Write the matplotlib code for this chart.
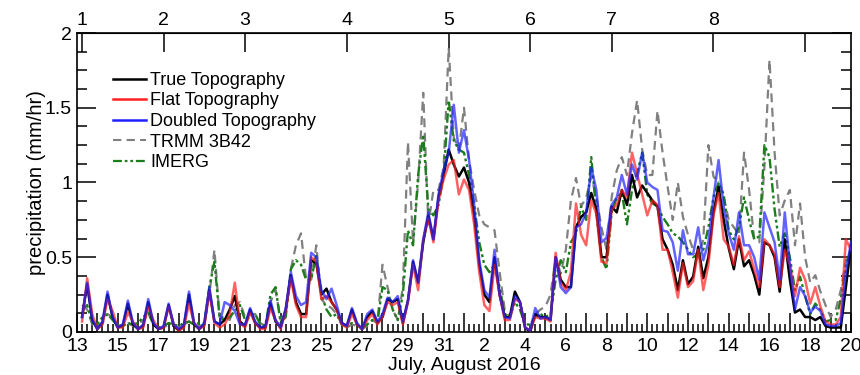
import pandas as pd
import matplotlib
matplotlib.use("Agg")
import matplotlib.pyplot as plt
from matplotlib.lines import Line2D

plt.rcParams['font.family'] = ['Liberation Sans', 'DejaVu Sans']

# 6-hourly domain-mean precipitation (mm/hr), 13 Jul 06Z .. 20 Aug 00Z
times = pd.date_range('2016-07-13 06:00', periods=152, freq='6h')

true_topo = [
    0.10, 0.32, 0.08, 0.02, 0.06, 0.25, 0.10, 0.03, 0.04, 0.19, 0.05, 0.02,
    0.04, 0.20, 0.05, 0.02, 0.03, 0.18, 0.04, 0.01, 0.04, 0.25, 0.05, 0.02,
    0.05, 0.28, 0.07, 0.05, 0.08, 0.15, 0.24, 0.07, 0.04, 0.15, 0.06, 0.03,
    0.03, 0.19, 0.07, 0.03, 0.15, 0.38, 0.20, 0.12, 0.12, 0.48, 0.46, 0.25,
    0.29, 0.20, 0.15, 0.06, 0.04, 0.15, 0.05, 0.02, 0.10, 0.14, 0.06, 0.10,
    0.22, 0.20, 0.22, 0.06, 0.21, 0.47, 0.33, 0.60, 0.78, 0.62, 0.90, 1.05,
    1.22, 1.12, 1.04, 1.10, 1.00, 0.78, 0.45, 0.25, 0.20, 0.50, 0.25, 0.10,
    0.10, 0.27, 0.20, 0.03, 0.00, 0.12, 0.10, 0.10, 0.08, 0.50, 0.35, 0.30,
    0.30, 0.70, 0.77, 0.80, 0.93, 0.82, 0.50, 0.50, 0.84, 0.80, 0.95, 0.85,
    1.05, 0.90, 0.98, 0.93, 0.88, 0.84, 0.62, 0.55, 0.45, 0.28, 0.48, 0.32,
    0.37, 0.57, 0.36, 0.50, 0.80, 0.97, 0.75, 0.56, 0.42, 0.62, 0.44, 0.48,
    0.38, 0.25, 0.60, 0.58, 0.50, 0.27, 0.62, 0.35, 0.13, 0.15, 0.10, 0.10,
    0.08, 0.10, 0.04, 0.03, 0.03, 0.03, 0.30, 0.58,
]
flat_topo = [
    0.07, 0.36, 0.12, 0.02, 0.05, 0.22, 0.14, 0.03, 0.03, 0.13, 0.07, 0.02,
    0.03, 0.17, 0.08, 0.02, 0.03, 0.17, 0.05, 0.01, 0.03, 0.19, 0.06, 0.02,
    0.04, 0.27, 0.06, 0.03, 0.05, 0.12, 0.33, 0.06, 0.03, 0.13, 0.06, 0.02,
    0.02, 0.16, 0.08, 0.02, 0.14, 0.36, 0.18, 0.10, 0.10, 0.50, 0.47, 0.22,
    0.24, 0.20, 0.15, 0.05, 0.03, 0.12, 0.05, 0.02, 0.08, 0.12, 0.05, 0.10,
    0.20, 0.18, 0.20, 0.05, 0.20, 0.45, 0.28, 0.62, 0.76, 0.60, 0.88, 1.02,
    1.12, 1.15, 0.92, 1.02, 0.95, 0.72, 0.40, 0.18, 0.14, 0.45, 0.25, 0.08,
    0.08, 0.22, 0.20, 0.03, 0.01, 0.10, 0.09, 0.09, 0.07, 0.53, 0.33, 0.28,
    0.40, 0.86, 0.65, 0.58, 0.88, 0.79, 0.47, 0.46, 0.82, 0.85, 0.95, 0.90,
    1.20, 1.06, 0.92, 0.78, 0.88, 0.85, 0.55, 0.55, 0.40, 0.23, 0.46, 0.30,
    0.34, 0.55, 0.28, 0.45, 0.78, 0.93, 0.62, 0.57, 0.45, 0.64, 0.48, 0.54,
    0.42, 0.30, 0.62, 0.58, 0.52, 0.30, 0.55, 0.45, 0.24, 0.43, 0.35, 0.19,
    0.30, 0.17, 0.07, 0.05, 0.05, 0.10, 0.62, 0.55,
]
doubled_topo = [
    0.10, 0.33, 0.08, 0.02, 0.07, 0.27, 0.10, 0.03, 0.05, 0.21, 0.06, 0.02,
    0.05, 0.22, 0.06, 0.02, 0.04, 0.19, 0.05, 0.02, 0.05, 0.27, 0.06, 0.02,
    0.06, 0.30, 0.07, 0.05, 0.20, 0.18, 0.14, 0.05, 0.05, 0.16, 0.07, 0.03,
    0.04, 0.21, 0.08, 0.03, 0.16, 0.40, 0.24, 0.18, 0.20, 0.53, 0.50, 0.28,
    0.22, 0.29, 0.18, 0.06, 0.04, 0.16, 0.06, 0.02, 0.12, 0.15, 0.07, 0.12,
    0.23, 0.20, 0.24, 0.07, 0.21, 0.48, 0.33, 0.62, 0.80, 0.62, 0.92, 1.08,
    1.20, 1.52, 1.20, 1.35, 1.15, 0.85, 0.48, 0.28, 0.23, 0.55, 0.25, 0.10,
    0.09, 0.24, 0.20, 0.03, 0.01, 0.16, 0.09, 0.10, 0.08, 0.50, 0.30, 0.26,
    0.30, 0.70, 0.72, 0.80, 1.10, 0.95, 0.60, 0.63, 0.85, 0.90, 1.05, 0.92,
    1.12, 1.02, 1.20, 1.00, 0.97, 0.95, 0.68, 0.67, 0.60, 0.41, 0.68, 0.52,
    0.52, 0.70, 0.48, 0.60, 0.90, 1.15, 0.84, 0.66, 0.55, 0.80, 0.58, 0.58,
    0.50, 0.35, 0.80, 0.70, 0.60, 0.35, 0.80, 0.45, 0.15, 0.30, 0.24, 0.13,
    0.17, 0.14, 0.05, 0.04, 0.04, 0.06, 0.40, 0.60,
]
trmm = [
    0.18, 0.15, 0.05, 0.03, 0.06, 0.12, 0.10, 0.04, 0.05, 0.06, 0.04, 0.05,
    0.08, 0.12, 0.06, 0.03, 0.03, 0.05, 0.04, 0.03, 0.05, 0.07, 0.05, 0.04,
    0.05, 0.25, 0.55, 0.10, 0.10, 0.08, 0.18, 0.20, 0.10, 0.12, 0.12, 0.06,
    0.04, 0.20, 0.28, 0.08, 0.12, 0.42, 0.58, 0.66, 0.35, 0.35, 0.58, 0.22,
    0.18, 0.16, 0.12, 0.05, 0.03, 0.05, 0.04, 0.02, 0.04, 0.08, 0.06, 0.45,
    0.30, 0.15, 0.08, 0.30, 1.27, 0.60, 1.00, 1.60, 0.72, 0.95, 0.95, 1.10,
    1.90, 1.30, 1.22, 1.50, 1.15, 0.95, 0.78, 0.72, 0.70, 0.68, 0.40, 0.15,
    0.10, 0.22, 0.20, 0.05, 0.03, 0.12, 0.15, 0.17, 0.25, 0.50, 0.39, 0.55,
    0.88, 1.03, 0.84, 0.90, 1.04, 0.90, 0.70, 0.55, 0.90, 1.08, 1.17, 1.05,
    1.33, 1.55, 1.22, 1.05, 1.05, 1.48, 1.20, 0.97, 0.75, 1.00, 0.77, 0.65,
    0.55, 0.50, 0.62, 1.25, 1.04, 1.00, 0.90, 0.75, 0.70, 0.65, 1.20, 0.95,
    0.62, 0.60, 1.10, 1.82, 1.20, 0.78, 0.88, 0.95, 0.58, 0.86, 0.50, 0.33,
    0.38, 0.27, 0.18, 0.10, 0.15, 0.28, 0.48, 0.55,
]
imerg = [
    0.15, 0.18, 0.06, 0.05, 0.10, 0.12, 0.08, 0.04, 0.04, 0.06, 0.05, 0.06,
    0.10, 0.13, 0.05, 0.03, 0.04, 0.06, 0.05, 0.04, 0.06, 0.07, 0.05, 0.06,
    0.06, 0.30, 0.47, 0.10, 0.08, 0.10, 0.14, 0.18, 0.08, 0.10, 0.12, 0.05,
    0.04, 0.25, 0.30, 0.06, 0.10, 0.42, 0.48, 0.45, 0.35, 0.35, 0.52, 0.25,
    0.15, 0.10, 0.12, 0.05, 0.04, 0.06, 0.05, 0.03, 0.05, 0.08, 0.07, 0.30,
    0.28, 0.15, 0.08, 0.25, 0.68, 0.58, 1.05, 1.32, 0.82, 0.78, 0.85, 1.05,
    1.55, 1.28, 1.22, 1.20, 1.05, 0.85, 0.60, 0.45, 0.40, 0.45, 0.30, 0.12,
    0.10, 0.20, 0.15, 0.05, 0.05, 0.10, 0.12, 0.10, 0.12, 0.35, 0.48, 0.40,
    0.60, 0.66, 0.84, 0.75, 1.17, 0.80, 0.50, 0.42, 0.80, 0.90, 0.93, 0.72,
    0.95, 1.06, 1.20, 0.92, 0.86, 0.84, 0.77, 0.72, 0.66, 0.64, 0.60, 0.55,
    0.50, 0.52, 0.55, 0.70, 0.90, 1.00, 0.92, 0.68, 0.62, 0.70, 0.90, 0.75,
    0.62, 0.64, 1.25, 1.17, 0.82, 0.57, 0.66, 0.50, 0.28, 0.37, 0.24, 0.12,
    0.19, 0.15, 0.07, 0.08, 0.08, 0.22, 0.45, 0.55,
]

# start times of the numbered rain events (top axis), plus end of event 8
event_times = pd.to_datetime([
    '2016-07-13 06:00', '2016-07-17 06:00', '2016-07-21 06:00', '2016-07-26 06:00',
    '2016-07-31 06:00', '2016-08-04 06:00', '2016-08-08 06:00', '2016-08-13 06:00',
    '2016-08-17 18:00',
])
event_labels = ['1', '2', '3', '4', '5', '6', '7', '8', '']

day_ticks = pd.date_range('2016-07-13', '2016-08-20', freq='D')
day_labels = [str(d.day) if i % 2 == 0 else '' for i, d in enumerate(day_ticks)]
six_hour_ticks = pd.date_range('2016-07-13', '2016-08-20', freq='6h')

fig = plt.figure(figsize=(8.6, 3.75), dpi=100)
ax = fig.add_axes([0.0895, 0.1147, 0.9, 0.7973])

ax.plot(times, trmm, color='#808080', lw=1.6, dashes=(4, 2.5), zorder=2)
ax.plot(times, imerg, color='#1b7d1b', lw=1.7, dashes=(4, 1.3, 1.2, 1.3, 1.2, 1.3), zorder=2)
ax.plot(times, true_topo, color='black', lw=1.8, zorder=3)
ax.plot(times, flat_topo, color='#ff2020', lw=1.8, alpha=0.7, zorder=3)
ax.plot(times, doubled_topo, color='#2020ff', lw=1.8, alpha=0.7, zorder=4)

ax.set_xlim(pd.Timestamp('2016-07-13'), pd.Timestamp('2016-08-20'))
ax.set_ylim(0, 2)

ax.set_xticks(day_ticks)
ax.set_xticklabels(day_labels)
ax.set_xticks(six_hour_ticks, minor=True)
ax.set_yticks([0, 0.5, 1, 1.5, 2])
ax.set_yticklabels(['0', '0.5', '1', '1.5', '2'])
ax.set_yticks([i * 0.125 for i in range(17)], minor=True)

ax.tick_params(axis='both', which='both', direction='in', labelsize=14, width=1.1)
ax.tick_params(axis='x', which='major', length=14, pad=4, top=False)
ax.tick_params(axis='x', which='minor', length=6, top=False)
ax.tick_params(axis='y', which='major', length=14, right=True)
ax.tick_params(axis='y', which='minor', length=7, right=True)
for sp in ax.spines.values():
    sp.set_linewidth(1.2)

top = ax.secondary_xaxis('top')
top.set_xticks(event_times)
top.set_xticklabels(event_labels)
top.tick_params(direction='in', length=14, width=1.1, labelsize=14, pad=3)
top.set_xticks([], minor=True)

ax.set_ylabel('precipitation (mm/hr)', fontsize=14.5, labelpad=-1)
ax.set_xlabel('July, August 2016', fontsize=14, labelpad=2)

handles = [
    Line2D([], [], color='black', lw=1.8),
    Line2D([], [], color='#ff2020', lw=1.8),
    Line2D([], [], color='#2020ff', lw=1.8),
    Line2D([], [], color='#808080', lw=1.5, dashes=(4, 2.5)),
    Line2D([], [], color='#1b7d1b', lw=1.6, dashes=(4, 1.3, 1.2, 1.3, 1.2, 1.3)),
]
names = ['True Topography', 'Flat Topography', 'Doubled Topography', 'TRMM 3B42', 'IMERG']
ax.legend(handles, names, loc='upper left', bbox_to_anchor=(0.046, 0.87),
          frameon=False, fontsize=13, handlelength=1.85, handletextpad=0.25,
          labelspacing=0.2, borderpad=0, borderaxespad=0)

fig.savefig('out.png', dpi=100)
